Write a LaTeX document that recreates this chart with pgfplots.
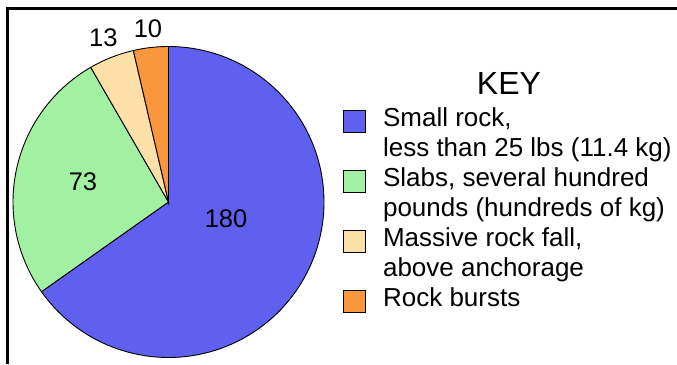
\documentclass[border=0pt]{standalone}
\usepackage{pgfplots}
\usepackage{pgfplotstable}
\pgfplotsset{compat=1.18}
\usepackage{fontspec}
\setmainfont{Liberation Sans}
\definecolor{cBlue}{RGB}{95,95,240}
\definecolor{cGreen}{RGB}{162,240,162}
\definecolor{cTan}{RGB}{252,224,168}
\definecolor{cOrange}{RGB}{250,150,60}
\pgfplotstableread{
label value
small 180
slabs 73
massive 13
bursts 10
}\piedata
\begin{document}%
\begin{tikzpicture}
\pgfplotstablegetelem{0}{value}\of\piedata \let\vA\pgfplotsretval
\pgfplotstablegetelem{1}{value}\of\piedata \let\vB\pgfplotsretval
\pgfplotstablegetelem{2}{value}\of\piedata \let\vC\pgfplotsretval
\pgfplotstablegetelem{3}{value}\of\piedata \let\vD\pgfplotsretval
\pgfmathsetmacro\total{\vA+\vB+\vC+\vD}
\pgfmathsetmacro\aA{90}
\pgfmathsetmacro\aB{\aA-360*(\vA/\total)}
\pgfmathsetmacro\aC{\aB-360*(\vB/\total)}
\pgfmathsetmacro\aD{\aC-360*(\vC/\total)}
\pgfmathsetmacro\aE{\aD-360*(\vD/\total)}
\useasboundingbox (0,0) rectangle (677pt,364pt);
\fill[white] (0,0) rectangle (677pt,364pt);
\begin{axis}[
  at={(168.5pt,162pt)}, anchor=origin,
  x=155.5pt, y=155.5pt,
  xmin=-1, xmax=1, ymin=-1, ymax=1,
  hide axis, clip=false,
  legend image code/.code={\draw[#1,line width=0.9pt] (0pt,-11pt) rectangle (22pt,11pt);},
  legend cell align=left,
  legend style={at={(1.061,0.8085)}, anchor=north west, draw=none, fill=none,
    inner sep=0pt, row sep=0pt, column sep=17pt,
    font=\fontsize{26}{30}\selectfont,
    nodes={inner sep=0pt, text height=20pt, text depth=10pt}},
]
\addplot[fill=cBlue, draw=black, line width=0.9pt, domain=\aB:\aA, samples=150, variable=\t]
  ({cos(\t)},{sin(\t)}) -- (axis cs:0,0) -- cycle;
\addlegendentry{Small rock,}
\addlegendimage{empty legend}
\addlegendentry{less than 25 lbs (11.4 kg)}
\addplot[fill=cGreen, draw=black, line width=0.9pt, domain=\aC:\aB, samples=80, variable=\t]
  ({cos(\t)},{sin(\t)}) -- (axis cs:0,0) -- cycle;
\addlegendentry{Slabs, several hundred}
\addlegendimage{empty legend}
\addlegendentry{pounds (hundreds of kg)}
\addplot[fill=cTan, draw=black, line width=0.9pt, domain=\aD:\aC, samples=30, variable=\t]
  ({cos(\t)},{sin(\t)}) -- (axis cs:0,0) -- cycle;
\addlegendentry{Massive rock fall,}
\addlegendimage{empty legend}
\addlegendentry{above anchorage}
\addplot[fill=cOrange, draw=black, line width=0.9pt, domain=\aE:\aD, samples=30, variable=\t]
  ({cos(\t)},{sin(\t)}) -- (axis cs:0,0) -- cycle;
\addlegendentry{Rock bursts}
\node[font=\fontsize{25.5}{30}\selectfont] at (axis cs:0.370,-0.109) {180};
\node[font=\fontsize{25.5}{30}\selectfont] at (axis cs:-0.550,0.131) {73};
\node[font=\fontsize{25.5}{30}\selectfont] at (axis cs:-0.419,1.058) {13};
\node[font=\fontsize{25.5}{30}\selectfont] at (axis cs:-0.132,1.113) {10};
\end{axis}
\node[font=\fontsize{32}{38}\selectfont] at (509pt,280.7pt) {KEY};
\draw[line width=2.5pt] (7.5pt,0) |- (677pt,355.5pt);
\end{tikzpicture}%
\end{document}
